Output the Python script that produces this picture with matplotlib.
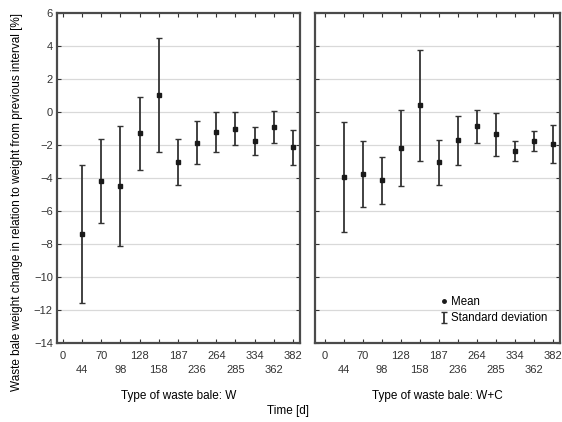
import numpy as np
import matplotlib
matplotlib.use("Agg")
import matplotlib.pyplot as plt
from matplotlib.lines import Line2D

plt.rcParams['font.family'] = ['Liberation Sans', 'DejaVu Sans']

# Sampling times [d] (categorical axis)
times = [0, 44, 70, 98, 128, 158, 187, 236, 264, 285, 334, 362, 382]

# Bale type W: mean and standard deviation of weight change [%]
w_mean = [-7.4, -4.2, -4.5, -1.3, 1.05, -3.05, -1.85, -1.2, -1.0, -1.75, -0.9, -2.15]
w_sd = [4.2, 2.55, 3.65, 2.2, 3.45, 1.4, 1.3, 1.2, 1.0, 0.85, 0.98, 1.05]

# Bale type W+C
wc_mean = [-3.95, -3.75, -4.15, -2.2, 0.4, -3.05, -1.72, -0.85, -1.35, -2.35, -1.76, -1.95]
wc_sd = [3.35, 2.0, 1.4, 2.3, 3.37, 1.35, 1.5, 1.0, 1.3, 0.6, 0.6, 1.15]

panel_titles = ["Type of waste bale: W", "Type of waste bale: W+C"]
y_label = "Waste bale weight change in relation to weight from previous interval [%]"
x_label = "Time [d]"

fig = plt.figure(figsize=(5.62, 4.22), dpi=100)
ax1 = fig.add_axes([57/562, 1-343/422, 243/562, 330/422])
ax2 = fig.add_axes([315/562, 1-343/422, 245/562, 330/422])

pos = np.arange(len(times))
tick_labels = [str(t) if i % 2 == 0 else "\n" + str(t) for i, t in enumerate(times)]

spine_col = "#4a4a4a"
for ax, m, s, title, xl in [(ax1, w_mean, w_sd, panel_titles[0], (-0.31, 12.37)),
                             (ax2, wc_mean, wc_sd, panel_titles[1], (-0.5, 12.37))]:
    for yy in range(-12, 6, 2):
        ax.axhline(yy, color="#d9d9d9", lw=0.9, zorder=0)
    ax.errorbar(pos[1:], m, yerr=s, fmt='s', ms=3, color="#1a1a1a",
                ecolor="#333333", elinewidth=1.3, capsize=2.5, capthick=1.0, zorder=3)
    ax.set_xlim(*xl)
    ax.set_ylim(-14, 6)
    ax.set_yticks(range(-14, 7, 2))
    ax.set_xticks(pos)
    ax.set_xticklabels(tick_labels, fontsize=8, linespacing=1.4)
    ax.tick_params(direction='in', top=True, right=True, length=3, width=0.8,
                   colors="#333333", labelsize=8, pad=3)
    ax.tick_params(axis='x', pad=6)
    for sp in ax.spines.values():
        sp.set_color(spine_col)
        sp.set_linewidth(1.6)
    ax.set_xlabel(title, fontsize=8.5, labelpad=11)

ax2.tick_params(labelleft=False)

# legend
mean_h = Line2D([], [], marker='o', ls='', color="#1a1a1a", ms=2.5)
sd_h = ax2.errorbar([np.nan], [np.nan], yerr=[1], fmt='none', ecolor="#333333",
                    elinewidth=1.3, capsize=2.5, capthick=1.0)
ax2.legend([mean_h, sd_h], ["Mean", "Standard deviation"], loc='lower right',
           bbox_to_anchor=(0.99, 0.025), frameon=False, fontsize=8.3,
           handlelength=0.6, handletextpad=0.3, labelspacing=0.35)

fig.text(17/562, 1-202/422, y_label, rotation=90, ha='center', va='center', fontsize=8.5)
fig.text(288/562, 1-411/422, x_label, ha='center', va='center', fontsize=8.5)

fig.savefig("out.png", dpi=100)
